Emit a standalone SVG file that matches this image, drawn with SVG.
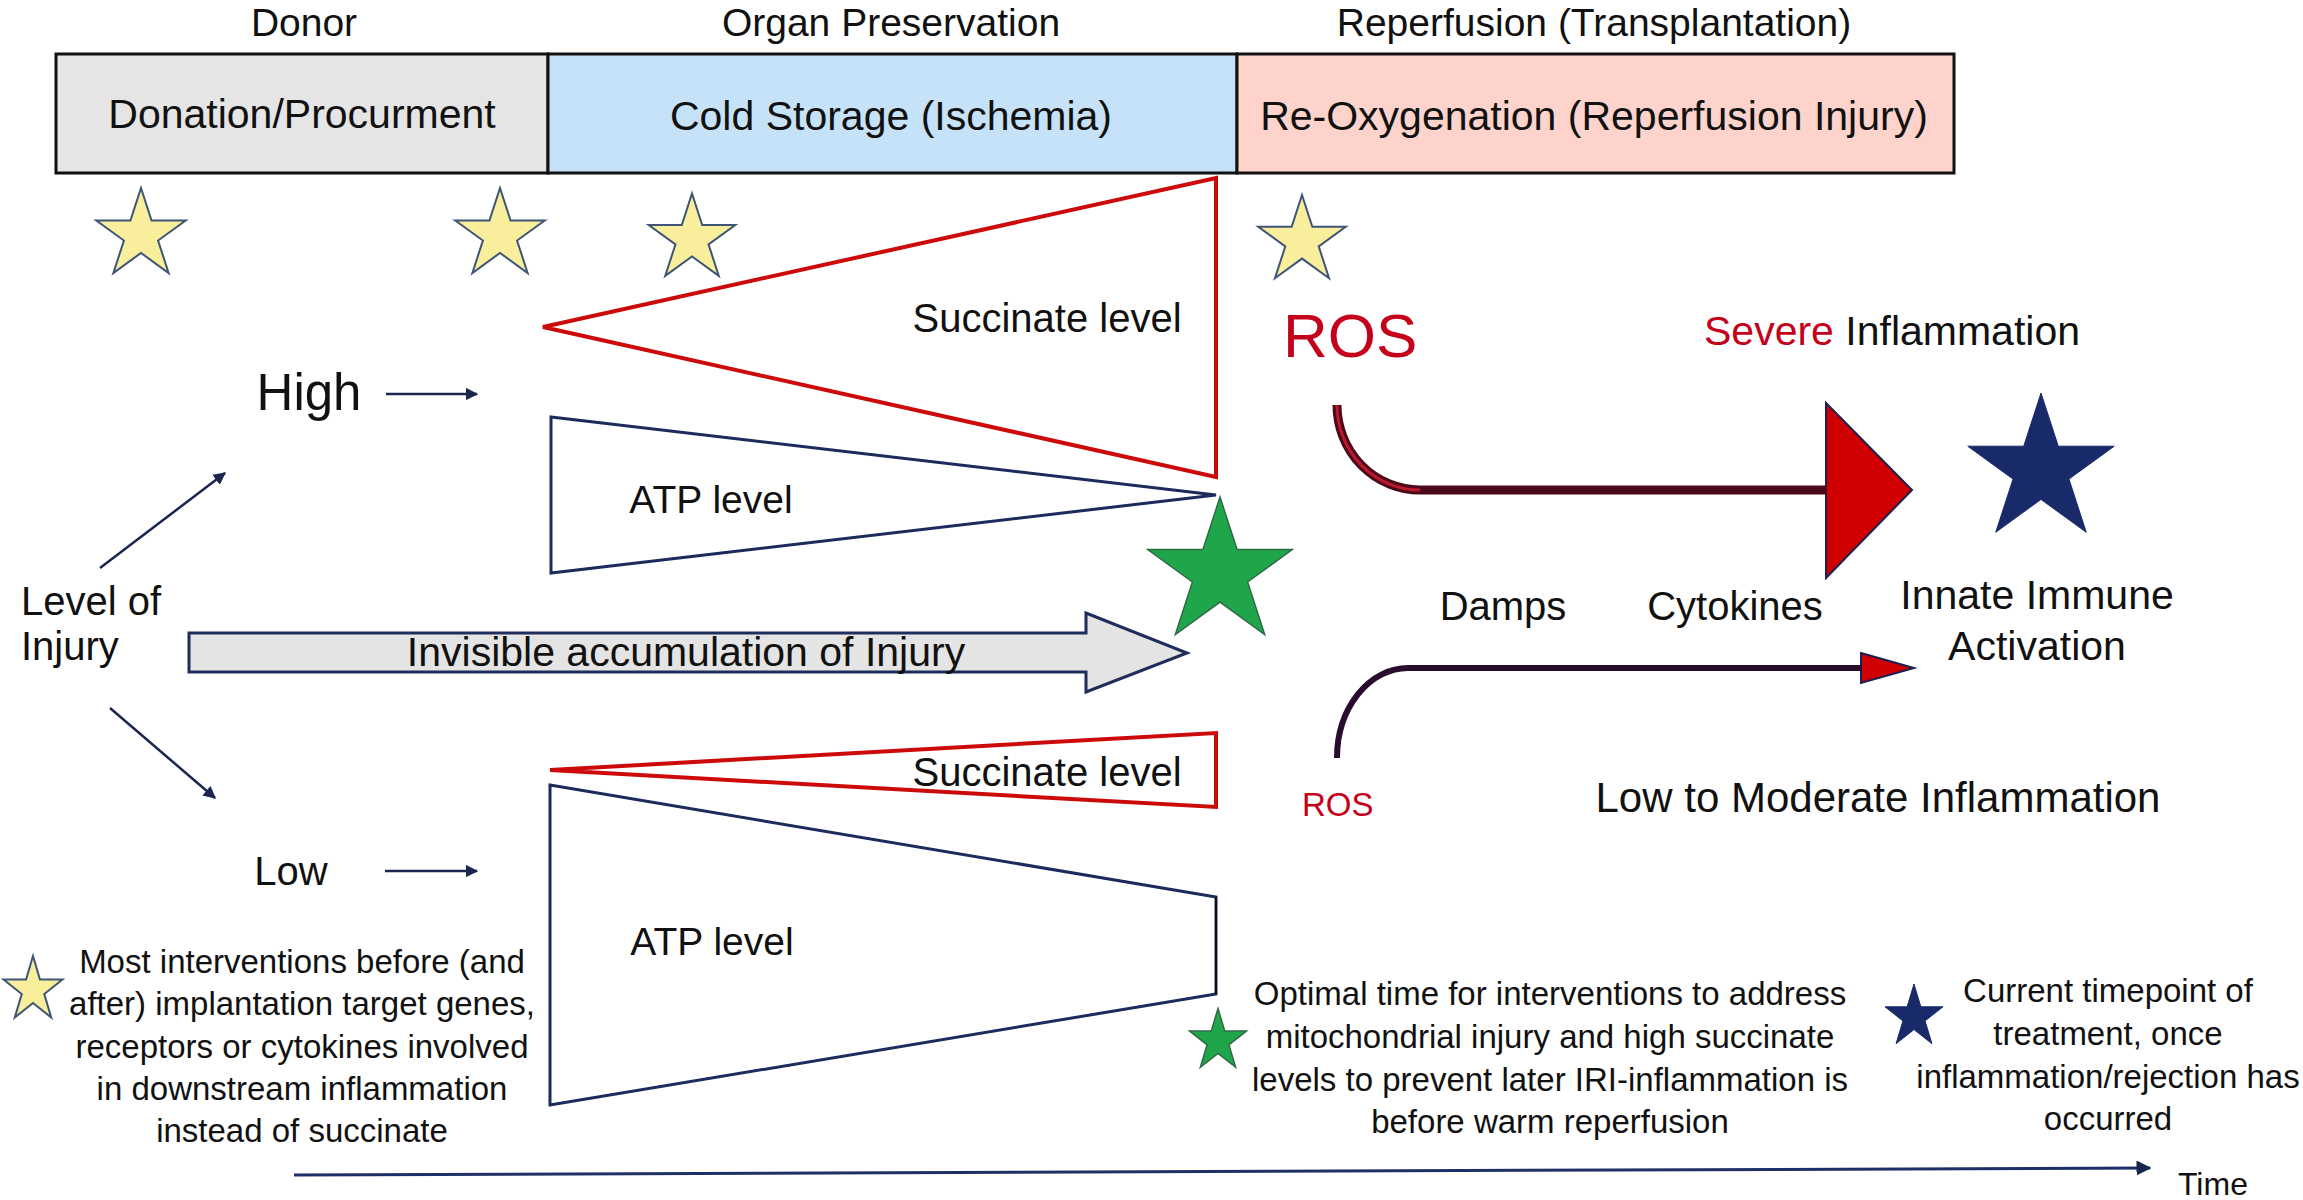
<svg xmlns="http://www.w3.org/2000/svg" xmlns:xlink="http://www.w3.org/1999/xlink" width="2303" height="1200" viewBox="0 0 2303 1200">
<style>
text{font-family:"Liberation Sans",Arial,sans-serif;fill:#111;}
.hdr{font-size:41px;text-anchor:middle;}
.top{font-size:39px;text-anchor:middle;}
.box{stroke:#111;stroke-width:3;}
.lbl{font-size:40px;}
.mid{text-anchor:middle;}
.leg{font-size:33px;text-anchor:middle;}
.red{fill:#c4001a;}
.succ{fill:#fff;stroke:#cc0a0a;stroke-width:4;stroke-linejoin:miter;}
.atp{fill:#fff;stroke:#1c2a5c;stroke-width:3;}
.ystar{fill:#f8ee9c;stroke:#3d5577;stroke-width:2;}
.gstar{fill:#1fa64a;stroke:#2f6b45;stroke-width:1.5;}
.nstar{fill:#182a6a;stroke:#182a6a;stroke-width:1;}
.thin{stroke:#1a2550;stroke-width:2.5;fill:none;}
</style>
<defs>
<path id="star" vector-effect="non-scaling-stroke" d="M0,-50 L11.23,-15.45 L47.55,-15.45 L18.17,5.9 L29.39,40.45 L0,19.1 L-29.39,40.45 L-18.17,5.9 L-47.55,-15.45 L-11.23,-15.45 Z"/>
<marker id="ah" viewBox="0 0 10 10" refX="9" refY="5" markerWidth="5" markerHeight="5" orient="auto" markerUnits="strokeWidth">
<path d="M0,0 L10,5 L0,10 Z" fill="#1a2550"/>
</marker>
</defs>
<rect width="2303" height="1200" fill="#fff"/>

<g id="headers">
<text class="top" x="304" y="36">Donor</text>
<text class="top" x="891" y="36">Organ Preservation</text>
<text class="top" x="1594" y="36">Reperfusion (Transplantation)</text>
</g>

<g id="phase-donation">
<rect class="box" x="56" y="54" width="492" height="119" fill="#e5e5e5"/>
<text class="hdr" x="302" y="128">Donation/Procurment</text>
</g>
<g id="phase-cold">
<rect class="box" x="548" y="54" width="689" height="119" fill="#c6e2f8"/>
<text class="hdr" x="891" y="130">Cold Storage (Ischemia)</text>
</g>
<g id="phase-reoxygenation">
<rect class="box" x="1237" y="54" width="717" height="119" fill="#fdd3cb"/>
<text class="hdr" x="1594" y="130">Re-Oxygenation (Reperfusion Injury)</text>
</g>

<g id="yellow-stars">
<use href="#star" class="ystar" transform="translate(141,235) scale(0.94)"/>
<use href="#star" class="ystar" transform="translate(500,235) scale(0.94)"/>
<use href="#star" class="ystar" transform="translate(692,239) scale(0.91)"/>
<use href="#star" class="ystar" transform="translate(1302,241) scale(0.92)"/>
</g>

<g id="high-succinate">
<polygon class="succ" points="543,327 1216,178 1216,477"/>
<text class="lbl mid" x="1047" y="332">Succinate level</text>
</g>
<g id="high-atp">
<polygon class="atp" points="551,417 1216,495 551,573"/>
<text class="lbl mid" x="711" y="513" style="font-size:39px">ATP level</text>
</g>

<g id="low-succinate">
<polygon class="succ" points="550,770 1216,733 1216,807"/>
<text class="lbl mid" x="1047" y="786">Succinate level</text>
</g>
<g id="low-atp">
<polygon class="atp" points="550,785 1216,897 1216,994 550,1105"/>
<line x1="1216" y1="897" x2="1216" y2="994" stroke="#111" stroke-width="2"/>
<text class="lbl mid" x="712" y="955" style="font-size:39px">ATP level</text>
</g>

<g id="level-of-injury">
<text class="lbl" x="21" y="615">Level of</text>
<text class="lbl" x="21" y="660">Injury</text>
</g>
<g id="high">
<text x="309" y="410" style="font-size:51px;text-anchor:middle">High</text>
</g>
<g id="low">
<text class="lbl mid" x="291" y="885">Low</text>
</g>

<g id="injury-arrow">
<polygon points="189,633 1086,633 1086,613 1187,653 1086,692 1086,672 189,672" fill="#e4e4e4" stroke="#1f2d5a" stroke-width="3" stroke-linejoin="miter"/>
<text x="686" y="666" style="font-size:41px;text-anchor:middle">Invisible accumulation of Injury</text>
</g>

<g id="green-star">
<use href="#star" class="gstar" transform="translate(1220,573) scale(1.52)"/>
</g>

<g id="ros-high">
<text class="red" x="1283" y="357" style="font-size:62px">ROS</text>
</g>
<g id="severe">
<text x="1704" y="345" style="font-size:41px"><tspan class="red">Severe</tspan> Inflammation</text>
</g>
<g id="big-head">
<polygon points="1826,403 1912,490 1826,578" fill="#d00000" stroke="#1a2050" stroke-width="2"/>
</g>
<g id="small-head">
<polygon points="1861,653 1914,668 1861,683" fill="#d00000" stroke="#1a2050" stroke-width="2"/>
</g>
<g id="navy-star">
<use href="#star" class="nstar" transform="translate(2041,470) scale(1.54)"/>
</g>
<g id="damps"><text class="lbl mid" x="1503" y="620">Damps</text></g>
<g id="cytokines"><text class="lbl mid" x="1735" y="620">Cytokines</text></g>
<g id="innate">
<text x="2037" y="609" style="font-size:41px;text-anchor:middle">Innate Immune</text>
<text x="2037" y="660" style="font-size:41px;text-anchor:middle">Activation</text>
</g>
<g id="ros-low"><text class="red" x="1302" y="816" style="font-size:33px">ROS</text></g>
<g id="low-moderate"><text x="1878" y="812" style="font-size:42px;text-anchor:middle">Low to Moderate Inflammation</text></g>

<g id="connectors">
<line class="thin" x1="100" y1="568" x2="225" y2="473" marker-end="url(#ah)"/>
<line class="thin" x1="110" y1="708" x2="215" y2="798" marker-end="url(#ah)"/>
<line class="thin" x1="386" y1="394" x2="477" y2="394" marker-end="url(#ah)"/>
<line class="thin" x1="385" y1="871" x2="477" y2="871" marker-end="url(#ah)"/>
<path d="M1337,405 A83,85 0 0 0 1420,490 L1827,490" fill="none" stroke="#4a0a1c" stroke-width="9"/>
<path d="M1337,405 A83,85 0 0 0 1420,490" fill="none" stroke="#c0182a" stroke-width="3"/>
<path d="M1337,758 A71,90 0 0 1 1408,668 L1862,668" fill="none" stroke="#2a0c2e" stroke-width="6"/>
<line x1="294" y1="1175" x2="2150" y2="1168" stroke="#1c2f66" stroke-width="3" marker-end="url(#ah)"/>
</g>

<g id="legend-yellow">
<use href="#star" class="ystar" transform="translate(33,990) scale(0.62,0.68)"/>
<text class="leg" x="302" y="973">Most interventions before (and</text>
<text class="leg" x="302" y="1015">after) implantation target genes,</text>
<text class="leg" x="302" y="1058">receptors or cytokines involved</text>
<text class="leg" x="302" y="1100">in downstream inflammation</text>
<text class="leg" x="302" y="1142">instead of succinate</text>
</g>
<g id="legend-green">
<use href="#star" class="gstar" transform="translate(1218,1041) scale(0.6,0.65)"/>
<text class="leg" x="1550" y="1005">Optimal time for interventions to address</text>
<text class="leg" x="1550" y="1048">mitochondrial injury and high succinate</text>
<text class="leg" x="1550" y="1091">levels to prevent later IRI-inflammation is</text>
<text class="leg" x="1550" y="1133">before warm reperfusion</text>
</g>
<g id="legend-navy">
<use href="#star" class="nstar" transform="translate(1914,1017) scale(0.61,0.66)"/>
<text class="leg" x="2108" y="1002">Current timepoint of</text>
<text class="leg" x="2108" y="1045">treatment, once</text>
<text class="leg" x="2108" y="1088">inflammation/rejection has</text>
<text class="leg" x="2108" y="1130">occurred</text>
</g>
<g id="time"><text x="2178" y="1195" style="font-size:32px">Time</text></g>
</svg>
